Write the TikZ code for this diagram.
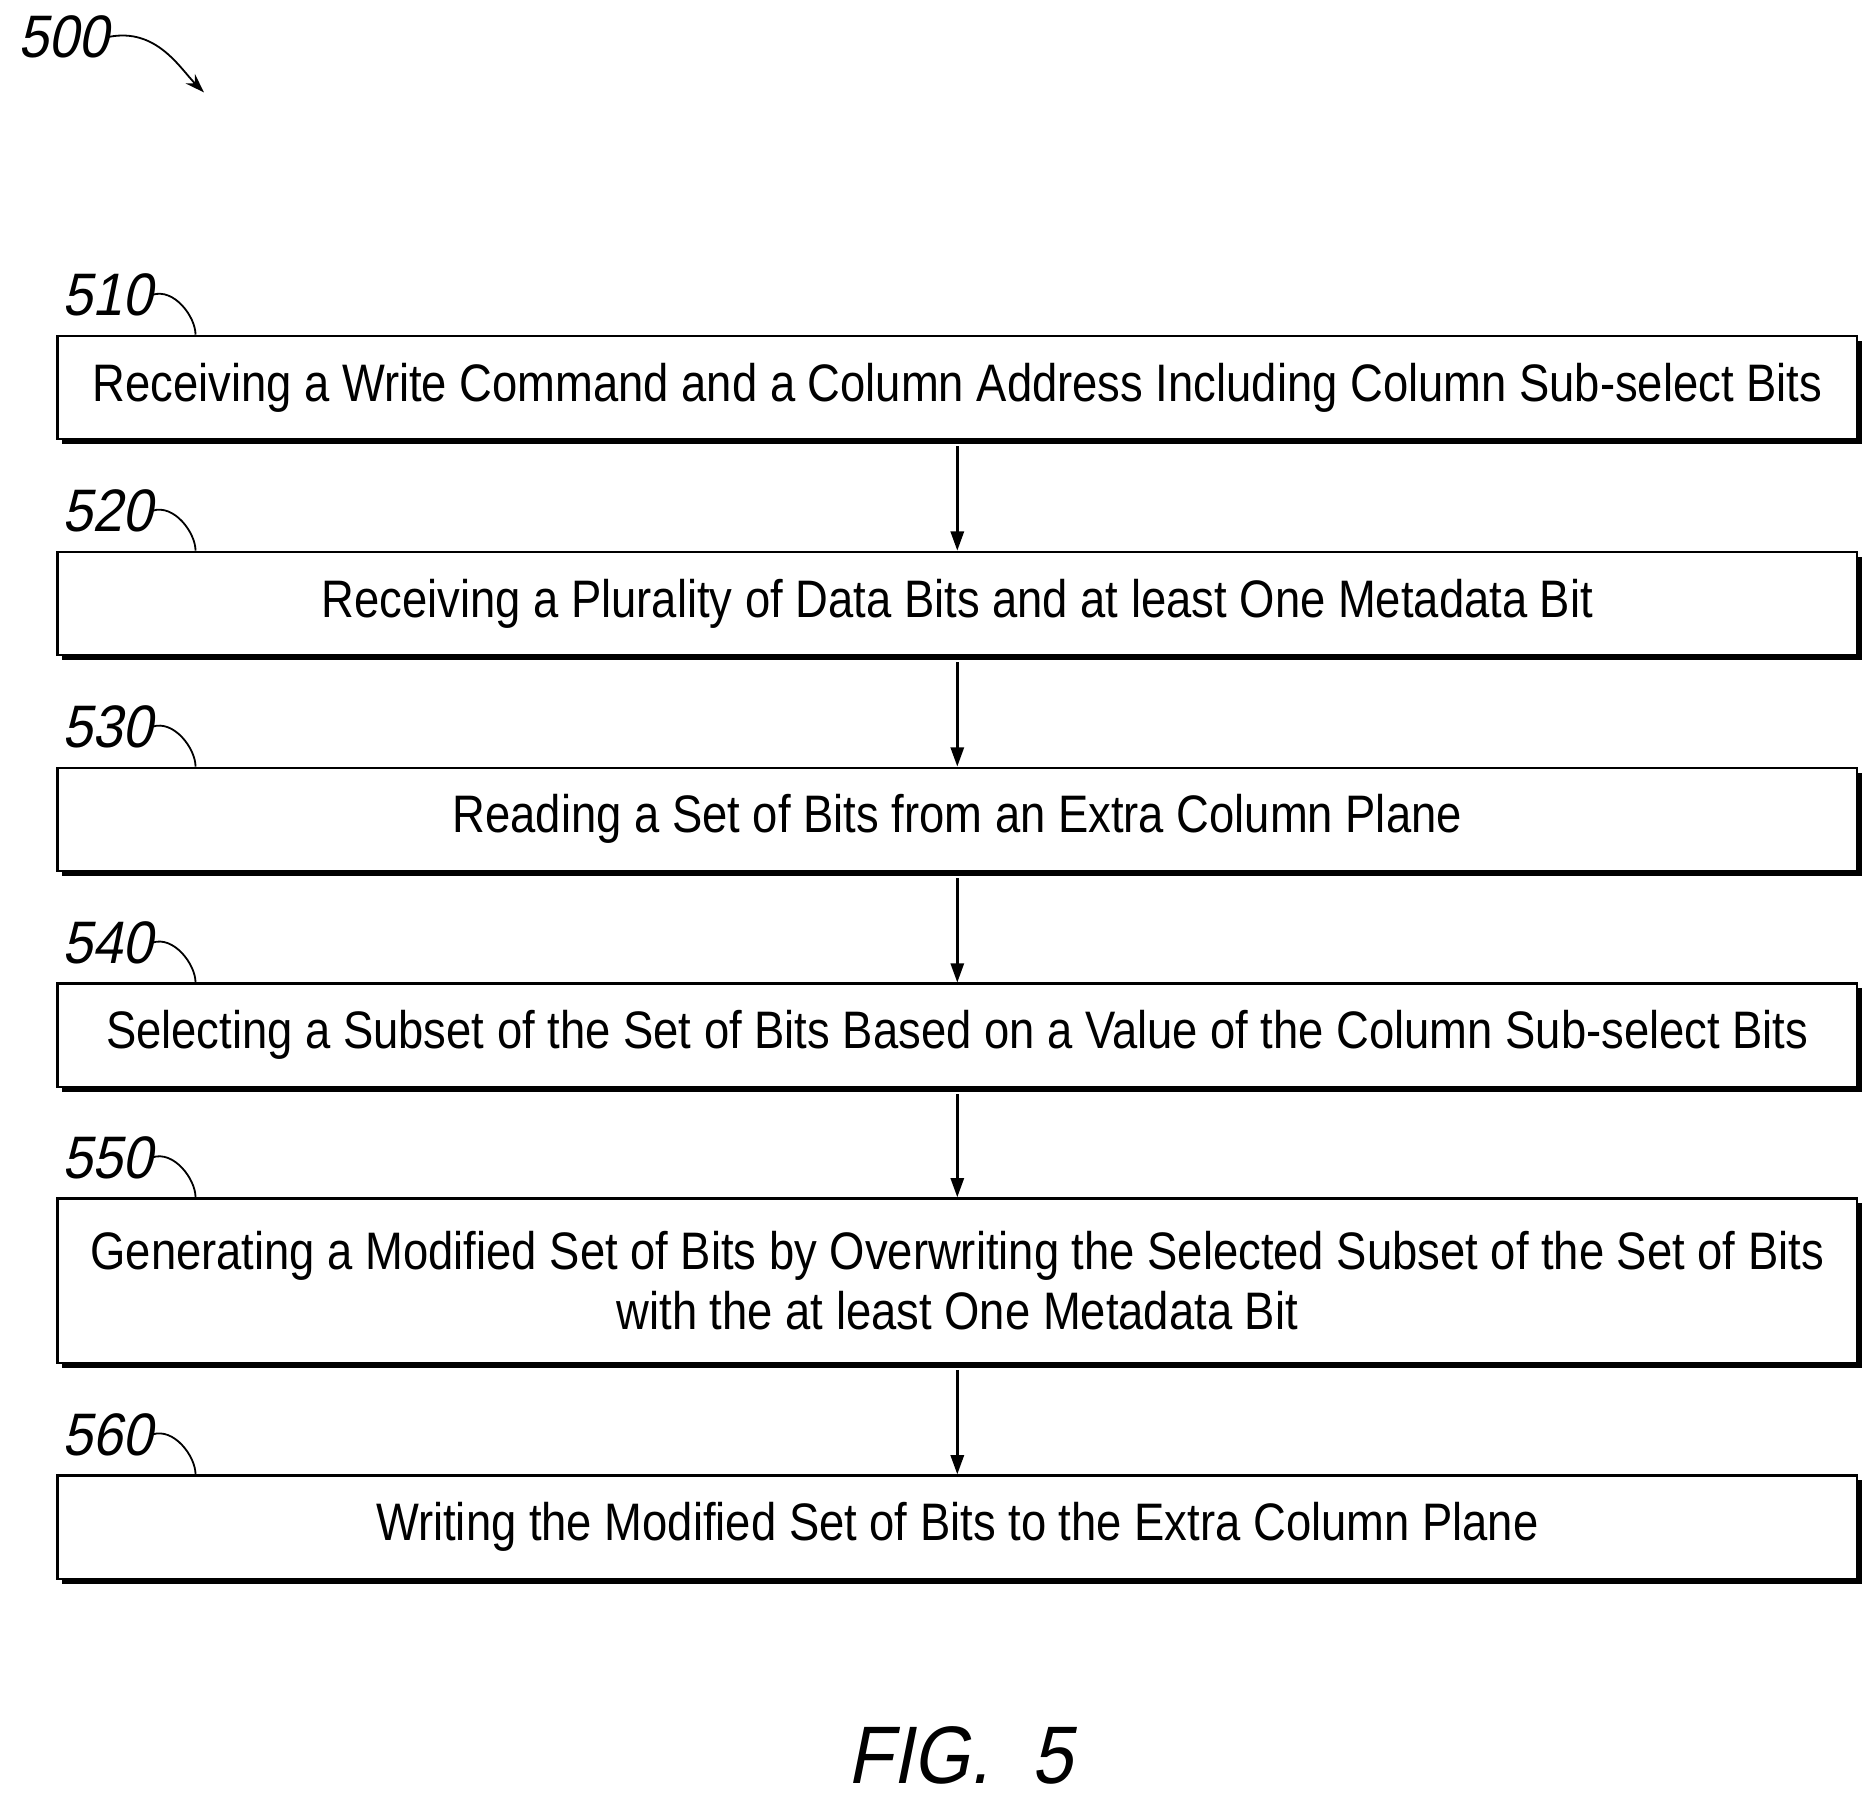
\documentclass[tikz,border=0pt]{standalone}
\usepackage{fontspec}
\setmainfont{Liberation Sans}[FakeStretch=0.86]
\newfontfamily\lblfont{Liberation Sans}[FakeSlant=0.2,FakeStretch=0.9]
\usetikzlibrary{arrows.meta,calc}
\begin{document}
\begin{tikzpicture}[x=1pt,y=-1pt,
  box/.style={draw,line width=2pt,fill=white,minimum width=1500pt,anchor=north west,inner sep=0pt,align=center,font=\fontsize{44}{50}\selectfont},
  lbl/.style={font=\lblfont\fontsize{50}{50}\selectfont,inner sep=0pt},
  arr/.style={line width=2pt,-{Triangle[length=16pt,width=11pt]}}]
\useasboundingbox (0,0) rectangle (1563,1502);
\def\mkbox#1#2#3#4#5{%
  \fill[black] (52,#2+5) rectangle (1552,#2+#3+5);
  \node[box,minimum height=#3pt] (#1) at (47,#2) {#4};
  \node[lbl,anchor=base east] (l#1) at (127,#2-16) {#5};
  \draw[line width=1.5pt] (l#1.east) .. controls ++(18,-6) and ++(0,-15) .. ($(#1.north west)+(116,0)$);}
\mkbox{a}{279}{86}{Receiving a Write Command and a Column Address Including Column Sub-select Bits}{510}
\mkbox{b}{459}{86}{Receiving a Plurality of Data Bits and at least One Metadata Bit}{520}
\mkbox{c}{639}{86}{Reading a Set of Bits from an Extra Column Plane}{530}
\mkbox{d}{819}{86}{Selecting a Subset of the Set of Bits Based on a Value of the Column Sub-select Bits}{540}
\mkbox{e}{998}{137}{Generating a Modified Set of Bits by Overwriting the Selected Subset of the Set of Bits\\with the at least One Metadata Bit}{550}
\mkbox{f}{1229}{86}{Writing the Modified Set of Bits to the Extra Column Plane}{560}
\draw[arr] ($(a.south)+(0,5)$) -- (b.north);
\draw[arr] ($(b.south)+(0,5)$) -- (c.north);
\draw[arr] ($(c.south)+(0,5)$) -- (d.north);
\draw[arr] ($(d.south)+(0,5)$) -- (e.north);
\draw[arr] ($(e.south)+(0,5)$) -- (f.north);
\node[lbl,anchor=base west] (n500) at (15,48) {500};
\coordinate (t500) at (170,77);
\draw[line width=1.5pt,-{Stealth[length=16pt,width=11pt]}] (n500.east) .. controls ++(40,-8) and ++(-20,-20) .. (t500);
\node[font=\lblfont\fontsize{68}{68}\selectfont,anchor=base] (fig) at (800,1487) {FIG.\ \ 5};
\end{tikzpicture}
\end{document}
